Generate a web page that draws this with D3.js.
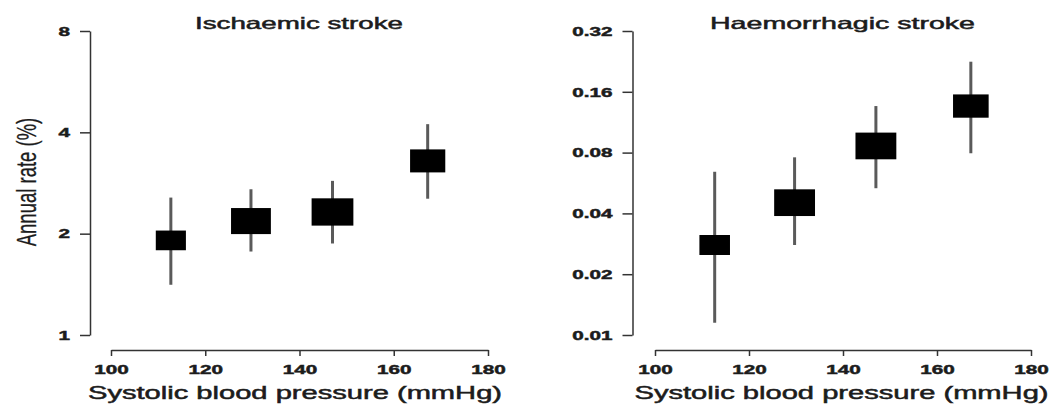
<!DOCTYPE html>
<html>
<head>
<meta charset="utf-8">
<script src="https://cdn.jsdelivr.net/npm/d3@7"></script>
<style>
  body { margin: 0; background: #fff; }
  text { font-family: "Liberation Sans", Arial, Helvetica, sans-serif; fill: #1c1c1c; stroke: #1c1c1c; stroke-width: 0.5px; }
</style>
</head>
<body>
<svg id="chart" width="1053" height="406"></svg>
<script>
// values (rates on log2 scale, CI as whiskers)
const sbp = [112.7, 129.7, 147.0, 167.2];
const ischRate = [1.91, 2.18, 2.32, 3.29];
const ischLow = [1.41, 1.77, 1.87, 2.54];
const ischHigh = [2.56, 2.71, 2.87, 4.23];
const ischWeight = [0.52, 0.91, 1.0, 0.71];
const haemRate = [0.0279, 0.0452, 0.0863, 0.136];
const haemLow = [0.0115, 0.0279, 0.0533, 0.0794];
const haemHigh = [0.0643, 0.0758, 0.136, 0.2255];
const haemWeight = [0.56, 1.0, 1.0, 0.76];
const xTicks = [100, 120, 140, 160, 180];
const ischTicks = [1, 2, 4, 8];
const haemTicks = [0.01, 0.02, 0.04, 0.08, 0.16, 0.32];
const titles = ['Ischaemic stroke', 'Haemorrhagic stroke'];
const xTitle = 'Systolic blood pressure (mmHg)';
const yTitle = 'Annual rate (%)';

// the source image is stretched sideways, so text and boxes are too
const SX = 1.53;
const axisColor = '#333';

const svg = d3.select('#chart');

function panel(cfg) {
    const g = svg.append('g');
    const x = d3.scaleLinear().domain([xTicks[0], xTicks[xTicks.length - 1]]).range([cfg.x0, cfg.x1]);
    const y = d3.scaleLog().base(2)
        .domain([cfg.ticks[0], cfg.ticks[cfg.ticks.length - 1]])
        .range([335, 31]);
    const side = d3.scaleSqrt().domain([0, 1]).range([0, cfg.maxSide]);

    // y axis
    const gy = g.append('g')
        .attr('transform', `translate(${cfg.axisX},0)`)
        .call(d3.axisLeft(y).tickValues(cfg.ticks).tickFormat(cfg.fmt).tickSize(10).tickSizeOuter(0))
        .attr('font-size', null).attr('font-family', null);
    gy.selectAll('.domain, line').attr('stroke', axisColor).attr('stroke-width', 1.5);
    gy.selectAll('text')
        .attr('x', -20 / SX)
        .attr('transform', `scale(${SX},1)`)
        .attr('fill', null)
        .style('font-size', '13.5px')
        .style('font-weight', 'bold');

    // x axis, offset below the plot
    const gx = g.append('g')
        .attr('transform', 'translate(0,350)')
        .call(d3.axisBottom(x).tickValues(xTicks).tickSize(6).tickSizeOuter(0))
        .attr('font-size', null).attr('font-family', null);
    gx.selectAll('.domain, line').attr('stroke', axisColor).attr('stroke-width', 1.5);
    gx.selectAll('text')
        .attr('y', 24).attr('dy', 0)
        .attr('transform', `scale(${SX},1)`)
        .attr('fill', null)
        .style('font-size', '13.5px')
        .style('font-weight', 'bold');

    const idx = d3.range(sbp.length);

    g.selectAll('.whisker').data(idx).enter().append('line')
        .attr('class', 'whisker')
        .attr('x1', i => x(sbp[i])).attr('x2', i => x(sbp[i]))
        .attr('y1', i => y(cfg.low[i])).attr('y2', i => y(cfg.high[i]))
        .attr('stroke', '#5a5a5a').attr('stroke-width', 3);

    g.selectAll('.box').data(idx).enter().append('rect')
        .attr('class', 'box')
        .attr('x', i => x(sbp[i]) - side(cfg.weight[i]) * SX / 2)
        .attr('y', i => y(cfg.rate[i]) - side(cfg.weight[i]) / 2)
        .attr('width', i => side(cfg.weight[i]) * SX)
        .attr('height', i => side(cfg.weight[i]))
        .attr('fill', '#000');

    g.append('text')
        .attr('x', cfg.titleX).attr('y', 29)
        .attr('text-anchor', 'middle')
        .attr('textLength', cfg.titleLen).attr('lengthAdjust', 'spacingAndGlyphs')
        .style('font-size', '16.5px')
        .text(cfg.title);

    g.append('text')
        .attr('x', cfg.xTitleX).attr('y', 399)
        .attr('text-anchor', 'middle')
        .attr('textLength', 414).attr('lengthAdjust', 'spacingAndGlyphs')
        .style('font-size', '18px')
        .text(xTitle);
}

panel({
    x0: 111, x1: 488, axisX: 90, ticks: ischTicks, fmt: d3.format('d'),
    rate: ischRate, low: ischLow, high: ischHigh, weight: ischWeight, maxSide: 27.3,
    title: titles[0], titleX: 299, titleLen: 208, xTitleX: 295
});
panel({
    x0: 655, x1: 1031, axisX: 632.5, ticks: haemTicks, fmt: d3.format('.2f'),
    rate: haemRate, low: haemLow, high: haemHigh, weight: haemWeight, maxSide: 26.7,
    title: titles[1], titleX: 842.5, titleLen: 265, xTitleX: 841.5
});

svg.append('text')
    .attr('transform', `translate(36,182) scale(${SX},1) rotate(-90)`)
    .attr('text-anchor', 'middle')
    .style('font-size', '18.5px')
    .style('stroke-width', '0.2px')
    .text(yTitle);
</script>
</body>
</html>
